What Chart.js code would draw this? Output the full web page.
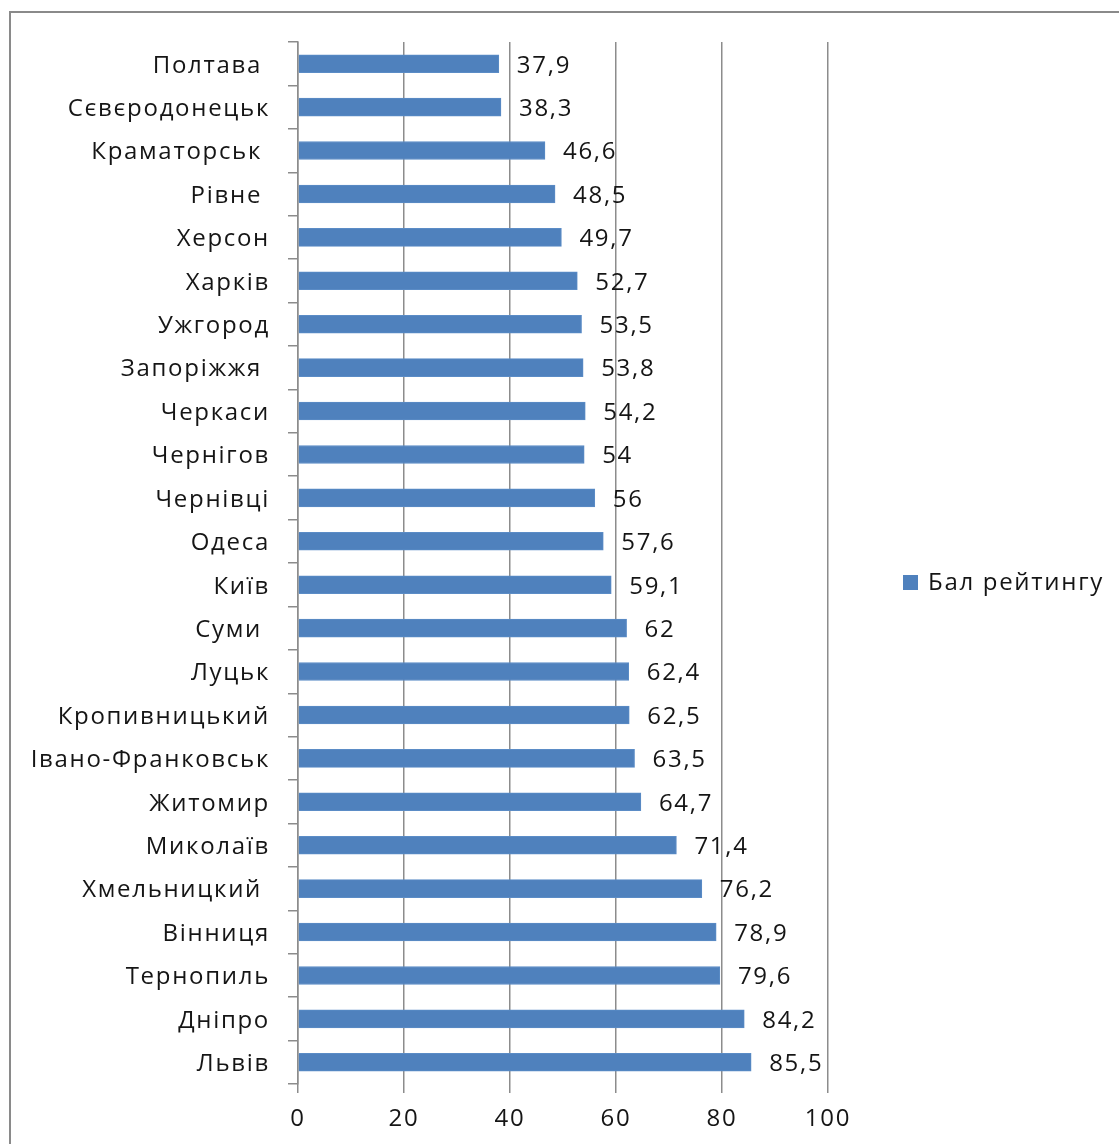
<!DOCTYPE html>
<html>
<head>
<meta charset="utf-8">
<script src="https://cdn.jsdelivr.net/npm/chart.js@4.4.0/dist/chart.umd.min.js"></script>
<style>
    html, body { margin: 0; padding: 0; background: #fff; overflow: hidden; }
    #frame { position: absolute; left: 9px; top: 11px; width: 1200px; height: 1200px; border: 2px solid #8a8a8a; }
    #wrap { position: absolute; left: 0; top: 0; width: 1119px; height: 1144px; }
</style>
</head>
<body>
<div id="frame"></div>
<div id="wrap"><canvas id="ratingChart" width="1119" height="1144"></canvas></div>
<script>
// Data
const cities = ['Полтава ', 'Сєвєродонецьк', 'Краматорськ ', 'Рівне ', 'Херсон', 'Харків', 'Ужгород',
    'Запоріжжя ', 'Черкаси', 'Чернігов', 'Чернівці', 'Одеса', 'Київ', 'Суми ', 'Луцьк',
    'Кропивницький', 'Івано-Франковськ', 'Житомир', 'Миколаїв', 'Хмельницкий ', 'Вінниця',
    'Тернопиль', 'Дніпро', 'Львів'];
const ratingScores = [37.9, 38.3, 46.6, 48.5, 49.7, 52.7, 53.5, 53.8, 54.2, 54, 56, 57.6, 59.1, 62,
    62.4, 62.5, 63.5, 64.7, 71.4, 76.2, 78.9, 79.6, 84.2, 85.5];
const seriesName = 'Бал рейтингу';
const xTicks = [0, 20, 40, 60, 80, 100];

const FONT = '"Open Sans", "DejaVu Sans", sans-serif';
const FONT_SIZE = 24;
const TEXT_COLOR = '#151515';
const BAR_COLOR = '#4f81bd';
const SPACING = '1.7px'; // the original text is drawn wide

// keep letter spacing on the context (canvas resets drop it)
const wideText = {
    id: 'wideText',
    beforeUpdate(chart) { chart.ctx.letterSpacing = SPACING; },
    beforeLayout(chart) { chart.ctx.letterSpacing = SPACING; },
    beforeDraw(chart) { chart.ctx.letterSpacing = SPACING; }
};

// Value labels next to each bar
const valueLabels = {
    id: 'valueLabels',
    afterDatasetsDraw(chart) {
        const ctx = chart.ctx;
        const meta = chart.getDatasetMeta(0);
        ctx.save();
        ctx.font = FONT_SIZE + 'px ' + FONT;
        ctx.fillStyle = TEXT_COLOR;
        ctx.textAlign = 'left';
        ctx.textBaseline = 'middle';
        meta.data.forEach((bar, i) => {
            const txt = String(ratingScores[i]).replace('.', ',');
            ctx.fillText(txt, bar.x + 18, bar.y + 2);
        });
        ctx.restore();
    }
};

// Legend on the right, like the Excel original
const sideLegend = {
    id: 'sideLegend',
    afterDraw(chart) {
        const ctx = chart.ctx;
        ctx.save();
        ctx.fillStyle = BAR_COLOR;
        ctx.fillRect(903, 575, 15, 15);
        ctx.font = FONT_SIZE + 'px ' + FONT;
        ctx.fillStyle = TEXT_COLOR;
        ctx.textBaseline = 'middle';
        ctx.fillText(seriesName, 928, 583);
        ctx.restore();
    }
};

const ctx = document.getElementById('ratingChart').getContext('2d');
new Chart(ctx, {
    type: 'bar',
    data: {
        labels: cities,
        datasets: [{
            label: seriesName,
            data: ratingScores,
            backgroundColor: BAR_COLOR,
            borderColor: '#5b8cc6',
            borderWidth: 1,
            barThickness: 18
        }]
    },
    options: {
        indexAxis: 'y',
        responsive: false,
        animation: false,
        layout: { padding: { top: 42, right: 291, left: 0, bottom: 0 } },
        plugins: {
            legend: { display: false },
            tooltip: { enabled: false }
        },
        scales: {
            x: {
                min: 0,
                max: 100,
                afterBuildTicks: (axis) => { axis.ticks = xTicks.map(v => ({ value: v })); },
                afterFit: (axis) => { axis.height = 60; },
                grid: { color: '#8c8c8c', lineWidth: 1.5, tickLength: 9, drawTicks: true },
                border: { display: false },
                ticks: { color: TEXT_COLOR, font: { family: FONT, size: FONT_SIZE }, padding: 12 }
            },
            y: {
                afterFit: (axis) => { axis.width = 298; },
                grid: { color: '#8c8c8c', lineWidth: 1.5, drawOnChartArea: false, tickLength: 10, offset: true },
                border: { display: true, color: '#8c8c8c', width: 1.5 },
                ticks: { color: TEXT_COLOR, font: { family: FONT, size: FONT_SIZE }, padding: 18, labelOffset: 2, autoSkip: false }
            }
        }
    },
    plugins: [wideText, valueLabels, sideLegend]
});
</script>
</body>
</html>
